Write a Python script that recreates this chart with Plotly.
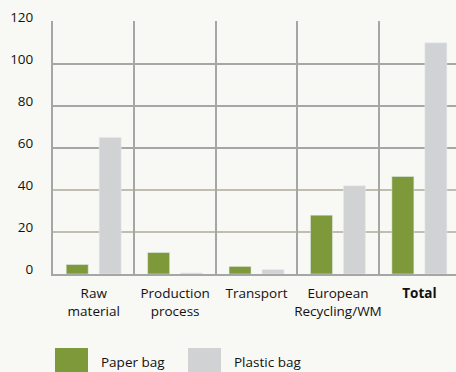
import plotly.graph_objects as go

categories = ["Raw<br>material", "Production<br>process", "Transport", "European<br>Recycling/WM", "<b>Total</b>"]
series_names = ["Paper bag", "Plastic bag"]
paper_bag = [4.5, 10.2, 3.6, 28, 46.4]
plastic_bag = [65, 0.5, 2.1, 42, 110]
y_ticks = [0, 20, 40, 60, 80, 100, 120]

GREEN = "#7D9939"
GRAY = "#D1D2D4"
BG = "#F8F8F4"
GRID = "#A6A6A6"
TAN = "#C2BDB2"
TXT = "#111111"
FONT = "Open Sans"
FS = 13.5

W, H = 456, 372
ml, mb, mt = 53, 98, 21
pw, ph = W - ml, H - mt - mb

def px_x(px):
    return (px - ml) / pw

def px_y(py):
    return (H - mb - py) / ph

idx = list(range(len(categories)))
fig = go.Figure()
fig.add_trace(go.Bar(x=idx, y=paper_bag, name=series_names[0], marker_color=GREEN, showlegend=False))
fig.add_trace(go.Bar(x=idx, y=plastic_bag, name=series_names[1], marker_color=GRAY, showlegend=False))

shapes = []
for v in [20, 40]:
    shapes.append(dict(type="line", xref="paper", yref="y", x0=0, x1=1, y0=v, y1=v,
                       line=dict(color=TAN, width=2), layer="below"))

annotations = []
legend_items = [(series_names[0], GREEN, 55, 99), (series_names[1], GRAY, 188, 232)]
for name, col, sx, tx in legend_items:
    shapes.append(dict(type="rect", xref="paper", yref="paper",
                       x0=px_x(sx), x1=px_x(sx + 33), y0=px_y(348), y1=px_y(380),
                       fillcolor=col, line=dict(width=0), layer="above"))
    annotations.append(dict(xref="paper", yref="paper", x=px_x(tx), y=px_y(362),
                            text=name, showarrow=False, xanchor="left", yanchor="middle",
                            font=dict(size=FS, family=FONT, color=TXT)))

fig.update_layout(
    width=W, height=H,
    margin=dict(l=ml, r=0, t=mt, b=mb, pad=0),
    paper_bgcolor=BG, plot_bgcolor=BG,
    barmode="group", bargap=0.19, bargroupgap=0.333,
    font=dict(family=FONT, size=FS, color=TXT),
    xaxis=dict(range=[-0.5, 4.45], tickvals=idx, ticktext=categories, showgrid=False,
               showline=True, linecolor=GRID, linewidth=2, ticks="", zeroline=False,
               minor=dict(tickvals=[i + 0.5 for i in idx], showgrid=True, gridcolor=GRID, gridwidth=2, ticks=""),
               ticklabelstandoff=6, tickfont=dict(size=FS, color=TXT), fixedrange=True, layer="below traces"),
    yaxis=dict(range=[0, 120.4], tickvals=y_ticks, showgrid=False, showline=True,
               linecolor=GRID, linewidth=2, ticks="", zeroline=False,
               minor=dict(tickvals=y_ticks[3:], showgrid=True, gridcolor=GRID, gridwidth=2, ticks=""),
               ticklabelstandoff=15, ticklabelshift=-5, tickfont=dict(size=FS, color=TXT), layer="below traces"),
    showlegend=False,
    shapes=shapes, annotations=annotations,
)

fig.write_html("out.html", config={"displayModeBar": False},
               post_script="document.body.style.margin='0';document.body.style.overflow='hidden';")
